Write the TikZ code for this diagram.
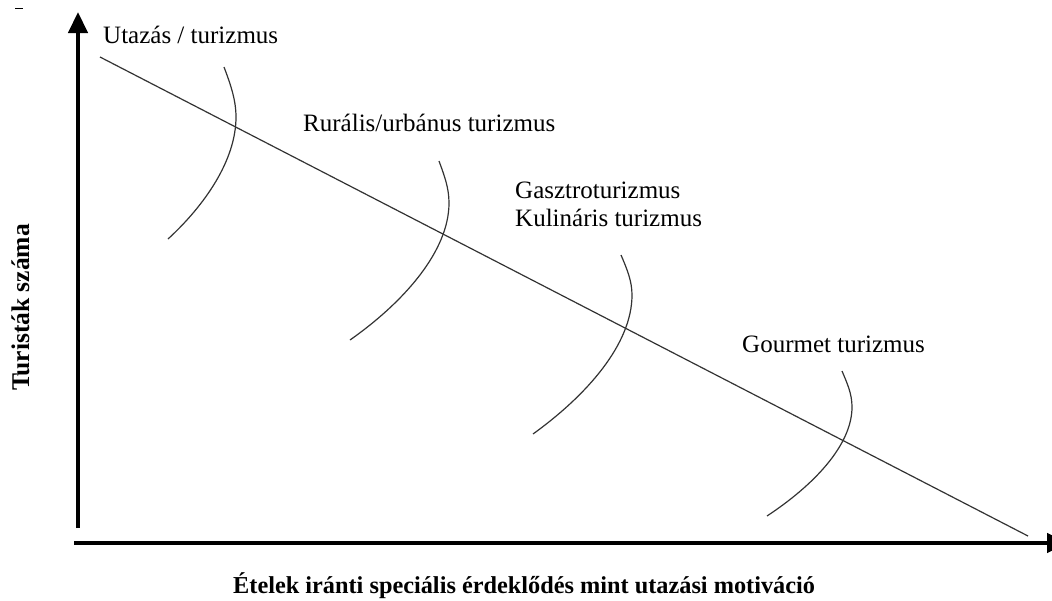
\documentclass[tikz,border=0pt]{standalone}
\usepackage{fontspec}
\setmainfont{Liberation Serif}
\usetikzlibrary{arrows.meta}
\tikzset{
  axis/.style={line width=4.5pt,-{Triangle[length=21pt,width=19pt]}},
  thinline/.style={line width=1.2pt,draw=black!80},
  lbl/.style={inner sep=0pt,anchor=base west,font=\fontsize{25}{28}\selectfont},
  blbl/.style={inner sep=0pt,font=\fontsize{24.3}{28}\selectfont\bfseries}
}
\begin{document}
\begin{tikzpicture}[x=1pt,y=-1pt]
\clip (0,0) rectangle (1052,600);
\fill[white] (0,0) rectangle (1052,600);
% axes
\coordinate (yo) at (78,528);
\coordinate (yt) at (78,12);
\coordinate (xo) at (74,543);
\coordinate (xt) at (1068,543);
\draw[axis] (yo) -- (yt);
\draw[axis] (xo) -- (xt);
% stray dash
\coordinate (d1) at (15,8);
\coordinate (d2) at (23,8);
\draw[line width=1pt] (d1) -- (d2);
% diagonal
\coordinate (ds) at (100,57);
\coordinate (de) at (1028,536);
\draw[thinline] (ds) -- (de);
% arcs
\draw[thinline] (224,67) .. controls (230.6,84.5) and (236,100) .. (236,117)
  .. controls (236,160) and (205,205) .. (168,239);
\draw[thinline] (439,161) .. controls (444.5,176) and (449,188) .. (449,203)
  .. controls (449,251) and (404,302) .. (350,340);
\draw[thinline] (621,255) .. controls (627,269) and (632,281) .. (632,295)
  .. controls (632,344) and (587,395) .. (533,434);
\draw[thinline] (842,371) .. controls (847.5,384) and (852,394) .. (852,407)
  .. controls (852,445) and (814,485) .. (767,516);
% labels
\node[lbl] (l1) at (103,43) {Utazás / turizmus};
\node[lbl] (l2) at (303,131) {Rurális/urbánus turizmus};
\node[lbl] (l3) at (515,198) {Gasztroturizmus};
\node[lbl] (l4) at (515,226) {Kulináris turizmus};
\node[lbl] (l5) at (742,352) {Gourmet turizmus};
\node[blbl,anchor=base west] (xl) at (233,593) {Ételek iránti speciális érdeklődés mint utazási motiváció};
\node[blbl,anchor=base,rotate=90,font=\fontsize{25.5}{28}\selectfont\bfseries] (yl) at (29,307.5) {Turisták száma};
\end{tikzpicture}
\end{document}
